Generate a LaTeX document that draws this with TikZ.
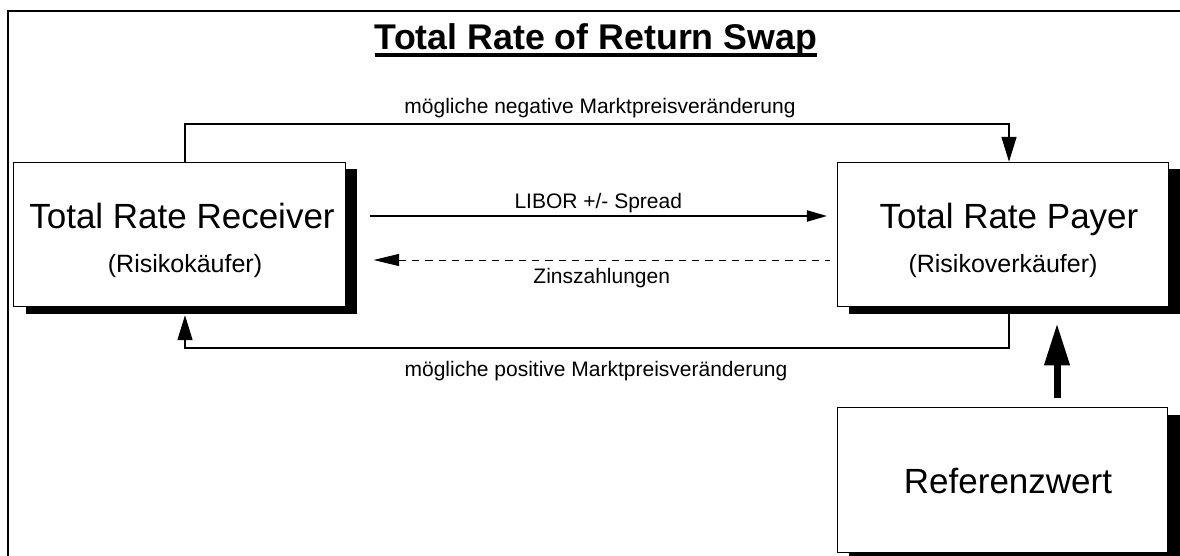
\documentclass[tikz,border=0pt]{standalone}
\usepackage{fontspec}
\setmainfont{Liberation Sans}
\usetikzlibrary{arrows.meta,shadows,calc}

\begin{document}
\begin{tikzpicture}[x=0.75pt, y=-0.75pt,
    party/.style={draw, line width=0.75pt, fill=white, inner sep=0pt,
        minimum width=248.5pt, minimum height=108.5pt,
        drop shadow={shadow xshift=9pt, shadow yshift=-5.25pt, fill=black, opacity=1}},
    bigtxt/.style={anchor=base, inner sep=0pt, font=\fontsize{26.25}{30}\selectfont},
    subtxt/.style={anchor=base, inner sep=0pt, font=\fontsize{18.75}{22}\selectfont},
    flowtxt/.style={anchor=base, inner sep=0pt, font=\fontsize{15.75}{19}\selectfont},
    flow/.style={line width=0.8pt, -{Triangle[length=15pt, width=8.5pt]}},
    backflow/.style={line width=0.6pt, dash pattern=on 5.5pt off 4.5pt,
        {Triangle[length=19pt, width=9pt]}-},
    pathflow/.style={line width=0.8pt, -{Triangle[length=18.5pt, width=11.25pt]}}
]

    % --- Frame and title ---
    \useasboundingbox (0,0) rectangle (1180,556);
    \clip (0,0) rectangle (1180,556);
    \draw[line width=1pt] (8,600) -- (8,11) -- (1200,11);

    \node[anchor=base, inner sep=0pt, font=\bfseries\fontsize{26.8}{30}\selectfont]
        (head) at (596,50) {Total Rate of Return Swap};
    \draw[line width=2.5pt] ([yshift=-3.75pt]head.base west) -- ([yshift=-3.75pt]head.base east);

    % --- Parties ---
    \node[party] (rec) at (179.5,234.5) {};
    \node[party] (pay) at (1003,234.5) {};
    \node[party, minimum width=248pt] (ref) at (1002.5,480) {};

    \node[bigtxt] (recname) at (182,228) {Total Rate Receiver};
    \node[subtxt] (recrole) at (185,272) {(Risikokäufer)};
    \node[bigtxt] (payname) at (1009,228) {Total Rate Payer};
    \node[subtxt] (payrole) at (1003,272) {(Risikoverkäufer)};
    \node[bigtxt] (refname) at (1008,493) {Referenzwert};

    % --- Corner points of the price change lines ---
    \coordinate (negl) at (185,124);
    \coordinate (negr) at (1009,124);
    \coordinate (posl) at (185,348);
    \coordinate (posr) at (1009,348);
    \coordinate (lift) at (1057,398);

    % --- Flows between the parties ---
    \draw[pathflow] (negl |- rec.north) -- (negl) -- (negr) -- (negr |- pay.north);
    \node[flowtxt] (neglbl) at (600,114) {mögliche negative Marktpreisveränderung};

    \draw[pathflow] (posr |- pay.south) -- (posr) -- (posl) -- ($(posl |- rec.south)+(0,8)$);
    \node[flowtxt] (poslbl) at (596,376) {mögliche positive Marktpreisveränderung};

    \draw[flow] ($(rec.east)+(24,-18.5)$) -- ($(pay.west)+(-10,-18.5)$)
        node[flowtxt, midway, yshift=6pt] (libor) {LIBOR +/- Spread};
    \draw[backflow] ($(rec.east)+(28,25.5)$) -- ($(pay.west)+(-7,25.5)$)
        node[flowtxt, midway, yshift=-17.25pt] (zins) {Zinszahlungen};

    % thick arrow from the reference asset
    \draw[line width=5.25pt, -{Triangle[length=31.5pt, width=18pt]}]
        (lift) -- ($(lift |- pay.south)+(0,16)$);

\end{tikzpicture}
\end{document}
